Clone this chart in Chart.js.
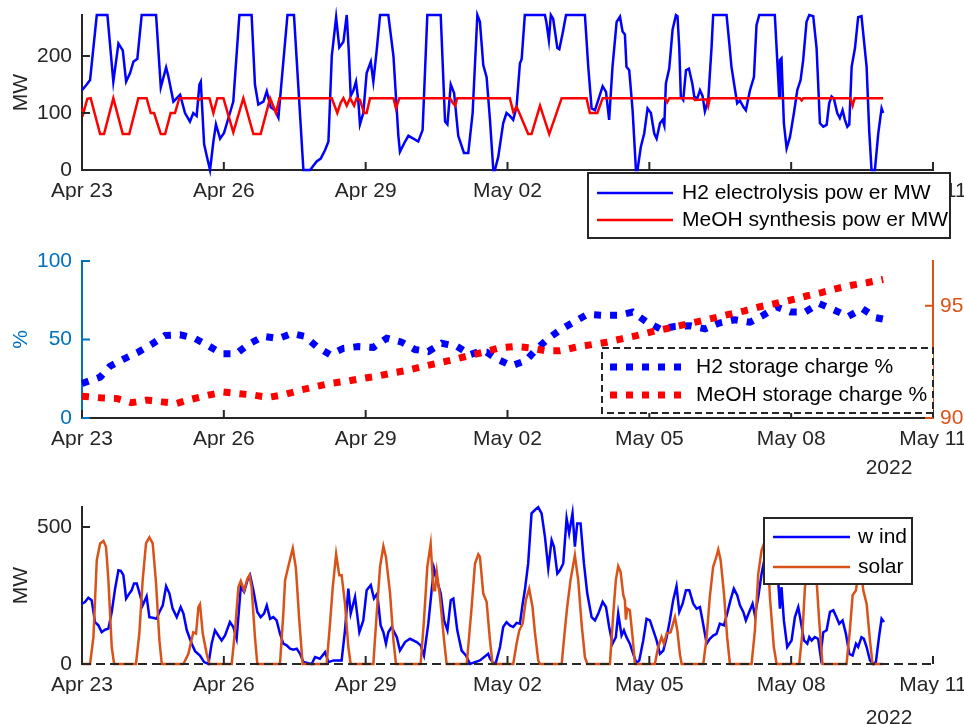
<!DOCTYPE html>
<html>
<head>
<meta charset="utf-8">
<title>Power, storage and resources</title>
<script src="https://cdn.jsdelivr.net/npm/chart.js@4.4.0/dist/chart.umd.min.js"></script>
<style>
  body { margin: 0; background: #ffffff; }
  #wrap { position: relative; width: 964px; height: 724px; overflow: hidden; }
  canvas { position: absolute; left: 0; top: 0; }
</style>
</head>
<body>
<div id="wrap">
  <canvas id="powerChart" width="964" height="724"></canvas>
  <canvas id="storageChart" width="964" height="724"></canvas>
  <canvas id="resourceChart" width="964" height="724"></canvas>
</div>
<script>
// =======================
// Axis ticks (x in hours from Apr 23 00:00)
// =======================
const dayTickHours = [0, 72, 144, 216, 288, 360, 432];
const dayTickLabels = ['Apr 23', 'Apr 26', 'Apr 29', 'May 02', 'May 05', 'May 08', 'May 11'];
const yearLabel = '2022';
const powerTicks = [0, 100, 200];
const storageTicks = [0, 50, 100];
const meohStorageTicks = [90, 95];
const resourceTicks = [0, 500];

// =======================
// Top: electrolysis / synthesis power (MW)
// =======================
const h2PowerHours = [
  0, 2.4, 4.1, 7.5, 12.9, 15.9, 18.5, 20.7, 22.4, 24.4,
  26.1, 28.1, 30.3, 37.6, 40.0, 42.7, 43.8, 46.4, 49.8, 52.3,
  54.8, 56.5, 58.2, 59.6, 60.3, 62.0, 63.3, 65.0, 66.7, 68.0,
  70.1, 72.1, 75.1, 76.8, 79.9, 86.1, 87.8, 89.5, 92.1, 93.8,
  95.8, 98.0, 99.7, 104.3, 107.6, 112.4, 115.8, 119.1, 121.2, 123.4,
  125.1, 126.8, 129.0, 130.6, 132.7, 134.4, 135.4, 136.4, 137.8, 139.1,
  140.3, 141.1, 142.8, 144.5, 146.6, 147.9, 149.6, 151.3, 155.5, 158.1,
  160.6, 161.4, 164.0, 165.7, 168.2, 170.7, 172.9, 175.3, 182.1, 184.3,
  185.5, 187.2, 188.9, 191.0, 193.9, 196.1, 198.3, 200.7, 202.0, 203.7,
  205.4, 207.1, 208.8, 209.6, 211.3, 213.8, 215.5, 217.2, 218.9, 220.6,
  222.3, 223.2, 224.8, 235.0, 235.8, 237.0, 238.0, 239.2, 241.3, 242.3,
  244.0, 245.7, 255.3, 257.0, 258.7, 260.4, 262.1, 264.3, 266.0, 267.6,
  269.3, 271.4, 273.1, 274.4, 275.6, 276.4, 277.8, 279.5, 281.2, 282.0,
  283.7, 285.4, 287.1, 288.8, 290.5, 291.7, 293.4, 294.7, 295.6, 296.4,
  298.1, 299.8, 301.5, 302.3, 303.2, 304.0, 305.2, 306.6, 308.1, 309.8,
  310.8, 312.3, 313.7, 315.0, 316.2, 317.9, 319.6, 320.4, 327.2, 328.6,
  329.7, 331.4, 332.6, 334.0, 335.7, 337.0, 339.1, 341.1, 342.4, 343.8,
  351.7, 353.4, 353.9, 354.3, 355.1, 356.3, 357.7, 359.4, 361.4, 363.1,
  364.8, 366.1, 367.8, 369.2, 371.2, 372.9, 374.6, 376.3, 378.0, 379.3,
  380.5, 381.7, 383.4, 384.7, 386.1, 387.3, 388.5, 389.5, 390.7, 392.4,
  394.0, 395.7, 398.3, 399.6, 400.8, 402.5, 404.2, 405.9, 406.7
];
const h2PowerMW = [
  140, 150, 158, 272, 272, 155, 222, 210, 155, 170,
  190, 195, 272, 272, 145, 180, 165, 120, 132, 100,
  85, 100, 95, 150, 155, 45, 25, 0, 50, 80,
  55, 65, 100, 120, 272, 272, 150, 115, 120, 138,
  110, 105, 92, 272, 272, 0, 0, 15, 20, 35,
  50, 200, 268, 215, 225, 272, 210, 130, 140, 155,
  120, 80, 100, 170, 190, 155, 210, 272, 272, 200,
  60, 32, 50, 60, 55, 50, 70, 272, 272, 85,
  80, 150, 135, 60, 30, 30, 100, 272, 260, 184,
  163, 88, 0, 0, 23, 82, 100, 95, 88, 111,
  187, 195, 272, 272, 258, 228, 272, 265, 214, 212,
  240, 272, 272, 181, 108, 105, 123, 147, 137, 88,
  181, 260, 269, 243, 238, 181, 175, 105, 0, 0,
  41, 64, 108, 100, 64, 55, 82, 88, 78, 152,
  178, 246, 272, 270, 214, 129, 123, 175, 178, 152,
  129, 125, 140, 130, 103, 123, 216, 272, 272, 222,
  181, 143, 117, 122, 111, 105, 140, 163, 254, 272,
  272, 163, 129, 193, 196, 82, 38, 58, 100, 140,
  158, 193, 260, 272, 270, 214, 82, 76, 79, 117,
  129, 125, 100, 91, 105, 88, 76, 80, 181, 214,
  268, 270, 181, 70, 0, 0, 64, 108, 100
];
const meohPowerHours = [
  0, 0.7, 2.7, 4.4, 9.2, 11.2, 15.9, 20.7, 24.0, 28.6,
  32.8, 34.9, 36.6, 40.0, 42.2, 45.0, 47.2, 49.4, 58.2, 59.4,
  60.8, 64.7, 66.7, 68.7, 71.8, 76.8, 81.9, 87.0, 90.7, 95.5,
  98.5, 100.2, 126.8, 129.6, 131.3, 132.7, 134.4, 136.1, 138.1, 139.4,
  141.1, 143.2, 144.5, 146.2, 158.1, 159.4, 161.1, 186.8, 188.2, 189.4,
  190.5, 217.2, 218.9, 220.6, 222.0, 226.5, 228.2, 232.5, 237.2, 243.5,
  256.1, 257.8, 261.6, 264.3, 295.9, 297.1, 298.1, 310.3, 311.1, 317.1,
  317.9, 318.7, 364.4, 365.3, 366.1, 390.1, 391.2, 392.2, 406.7
];
const meohPowerMW = [
  108, 100, 125, 126, 63, 63, 126, 63, 63, 126,
  126, 100, 100, 63, 63, 100, 100, 126, 126, 123,
  126, 126, 100, 126, 126, 66, 126, 63, 63, 126,
  100, 126, 126, 100, 118, 126, 113, 126, 113, 126,
  123, 100, 100, 126, 126, 108, 126, 126, 118, 113,
  126, 126, 102, 111, 100, 63, 63, 113, 63, 126,
  126, 100, 100, 126, 126, 119, 126, 126, 123, 124,
  113, 126, 126, 122, 126, 126, 113, 126, 126
];

// =======================
// Middle: storage charge (%)
// =======================
const h2StorageHours = [
  0, 9.2, 14.2, 21.9, 28.6, 35.4, 42.2, 49.8, 57.4, 64.2,
  70.9, 78.5, 84.5, 92.1, 99.7, 106.4, 113.2, 119.1, 125.9, 132.7,
  140.3, 147.9, 154.7, 162.3, 169.1, 175.8, 182.6, 190.2, 197.0, 201.0,
  205.4, 210.5, 218.1, 225.3, 230.8, 236.7, 242.6, 250.2, 256.5, 264.6,
  272.2, 279.5, 286.3, 293.4, 301.0, 308.6, 316.2, 323.5, 331.4, 339.1,
  345.8, 352.6, 359.7, 367.0, 374.2, 381.4, 389.0, 396.2, 403.0, 406.7
];
const h2StoragePct = [
  22, 26, 33, 38, 42, 47, 52.6, 53, 50.6, 46,
  41, 41, 47, 52, 50.6, 53.8, 52, 45.5, 40.4, 44.4,
  45.5, 45, 50.8, 48.3, 43.6, 42.3, 47.6, 45.7, 40.4, 42,
  41.9, 37.6, 33.3, 36.5, 44, 50.6, 56, 61.5, 66, 65.4,
  65.4, 67.5, 61.5, 56.8, 58.3, 58.8, 56.8, 60.5, 62.6, 61,
  65.4, 70.7, 67.5, 67.5, 72.9, 69, 64.7, 69.6, 63.9, 63
];
const meohStorageHours = [
  0, 9.2, 17.6, 25.2, 32.8, 40.5, 48.1, 55.7, 64.2, 71.8,
  79.4, 87.0, 94.6, 103.1, 110.7, 118.3, 125.9, 134.4, 142.0, 149.6,
  157.2, 164.8, 173.3, 180.9, 188.5, 197.0, 203.7, 212.2, 219.8, 227.4,
  235.0, 242.6, 251.1, 258.7, 266.3, 273.9, 281.5, 290.0, 297.6, 305.2,
  312.8, 320.4, 328.9, 336.5, 344.1, 351.7, 359.4, 367.8, 375.4, 383.0,
  390.7, 398.3, 406.7
];
const meohStoragePct = [
  90.97, 90.9, 90.87, 90.68, 90.8, 90.72, 90.65, 90.84, 91.02, 91.16,
  91.09, 91.02, 90.92, 91.05, 91.24, 91.39, 91.54, 91.64, 91.76, 91.86,
  92.0, 92.12, 92.3, 92.45, 92.6, 92.79, 92.93, 93.13, 93.19, 93.13,
  93.0, 93.0, 93.16, 93.27, 93.38, 93.53, 93.67, 93.86, 94.0, 94.15,
  94.3, 94.45, 94.63, 94.78, 94.96, 95.1, 95.25, 95.44, 95.59, 95.77,
  95.92, 96.03, 96.18
];

// =======================
// Bottom: wind / solar (MW)
// =======================
const windHours = [
  0, 1.5, 3.2, 4.9, 6.6, 8.3, 10.0, 11.7, 13.4, 15.1,
  16.8, 18.5, 19.7, 21.0, 22.4, 24.0, 25.2, 26.4, 27.8, 29.5,
  30.8, 32.8, 34.2, 35.9, 37.9, 39.3, 41.0, 42.7, 44.4, 46.0,
  48.1, 50.1, 51.5, 53.2, 55.7, 57.4, 59.9, 62.0, 64.2, 65.8,
  67.5, 69.2, 70.9, 72.6, 75.1, 76.8, 78.5, 80.6, 82.3, 84.0,
  85.3, 87.0, 89.0, 90.7, 92.4, 93.8, 95.5, 97.1, 98.8, 100.5,
  102.2, 103.9, 105.6, 107.3, 109.0, 110.7, 112.4, 116.6, 118.3, 120.8,
  123.4, 125.1, 127.6, 131.8, 133.5, 135.2, 136.4, 138.6, 140.8, 142.8,
  144.5, 146.6, 148.2, 149.9, 151.6, 153.0, 154.3, 155.5, 157.2, 159.8,
  161.4, 164.0, 166.5, 169.9, 171.9, 173.6, 175.8, 177.5, 178.7, 180.4,
  182.1, 183.8, 185.5, 187.2, 188.5, 190.5, 192.7, 194.9, 197.0, 199.5,
  202.0, 206.2, 207.1, 208.8, 210.1, 212.2, 213.8, 215.5, 217.2, 218.9,
  220.6, 222.3, 223.7, 224.8, 226.5, 228.2, 229.9, 231.6, 233.3, 235.0,
  236.7, 238.4, 239.6, 241.3, 242.6, 244.3, 246.0, 247.3, 249.0, 250.2,
  251.4, 253.1, 254.8, 256.5, 258.7, 260.4, 262.1, 264.3, 266.0, 267.6,
  269.3, 271.0, 272.2, 273.9, 275.1, 276.4, 278.1, 279.8, 281.5, 282.9,
  284.9, 286.6, 288.3, 290.0, 291.7, 293.4, 295.1, 296.8, 298.4, 300.1,
  301.8, 303.2, 304.9, 306.6, 308.3, 310.3, 312.0, 313.7, 315.0, 317.1,
  318.7, 320.4, 322.1, 323.8, 325.9, 327.5, 329.2, 330.9, 332.6, 334.0,
  335.7, 337.0, 338.7, 340.4, 341.6, 343.3, 345.0, 346.7, 349.2, 351.7,
  353.4, 354.3, 355.1, 356.3, 358.0, 360.2, 361.9, 363.6, 364.8, 366.5,
  368.2, 369.2, 370.4, 372.0, 373.7, 374.9, 376.3, 378.0, 379.7, 381.4,
  383.0, 384.4, 386.1, 387.8, 389.5, 391.2, 392.9, 394.0, 395.7, 396.9,
  398.3, 400.0, 401.7, 403.0, 404.7, 405.9, 407.1
];
const windMW = [
  220, 226, 242, 233, 153, 141, 116, 125, 129, 190,
  275, 342, 340, 324, 239, 257, 269, 294, 294, 251,
  214, 247, 171, 169, 165, 190, 214, 284, 257, 202,
  171, 208, 184, 123, 74, 47, 31, 7, 0, 74,
  123, 104, 86, 104, 153, 135, 92, 281, 263, 306,
  324, 269, 190, 171, 184, 214, 165, 171, 159, 111,
  74, 68, 56, 52, 56, 37, 7, 0, 25, 19,
  43, 7, 13, 13, 123, 275, 184, 245, 116, 159,
  269, 288, 239, 257, 141, 116, 74, 116, 135, 98,
  49, 80, 92, 80, 68, 31, 147, 269, 349, 300,
  257, 159, 123, 233, 239, 123, 49, 31, 0, 7,
  13, 37, 20, 3, 5, 62, 135, 153, 141, 135,
  150, 147, 220, 269, 367, 550, 562, 572, 550, 465,
  349, 452, 428, 330, 342, 367, 532, 477, 550, 428,
  513, 513, 367, 257, 171, 159, 184, 227, 208, 135,
  74, 98, 184, 104, 123, 98, 74, 37, 3, 13,
  86, 165, 159, 123, 86, 37, 49, 98, 159, 233,
  284, 190, 220, 269, 269, 220, 202, 208, 159, 74,
  92, 104, 110, 147, 141, 184, 233, 275, 251, 214,
  190, 159, 190, 220, 178, 245, 330, 391, 440, 420,
  306, 202, 281, 159, 62, 86, 171, 208, 159, 86,
  74, 98, 86, 98, 92, 31, 116, 123, 190, 196,
  171, 147, 159, 110, 37, 31, 74, 62, 98, 92,
  62, 13, 0, 7, 104, 165, 153
];
const solarHours = [
  0, 4.1, 5.8, 7.5, 9.2, 10.9, 12.2, 13.4, 15.1, 16.3,
  27.4, 29.1, 30.8, 32.5, 34.2, 35.9, 37.6, 39.3, 40.5, 51.5,
  54.0, 56.5, 57.9, 59.1, 59.9, 61.3, 63.3, 64.7, 76.0, 77.7,
  79.4, 80.6, 82.3, 84.0, 85.0, 86.1, 87.8, 89.0, 100.5, 102.2,
  103.1, 105.3, 107.0, 108.6, 110.3, 112.0, 124.2, 125.9, 127.3, 129.0,
  130.6, 131.8, 133.5, 135.2, 136.4, 147.9, 149.6, 151.3, 153.0, 154.3,
  156.4, 158.1, 159.4, 171.9, 173.6, 175.3, 177.0, 178.4, 179.2, 180.1,
  181.7, 183.8, 185.1, 195.3, 197.8, 199.5, 201.2, 202.0, 203.7, 205.4,
  207.1, 208.4, 218.9, 220.6, 222.0, 223.7, 225.3, 227.0, 228.7, 229.9,
  231.6, 232.5, 243.5, 245.1, 246.3, 248.0, 250.2, 251.9, 253.6, 255.3,
  256.5, 268.0, 269.7, 271.0, 272.2, 273.4, 274.8, 275.6, 276.1, 276.8,
  278.1, 279.5, 280.7, 290.8, 292.5, 294.2, 295.4, 296.8, 298.8, 301.0,
  302.2, 303.5, 304.4, 315.4, 317.1, 318.7, 320.4, 321.8, 323.0, 324.2,
  325.9, 327.5, 328.9, 339.9, 341.6, 343.3, 345.0, 346.5, 348.0, 349.2,
  351.2, 352.6, 364.1, 365.8, 367.0, 369.5, 372.9, 374.2, 375.9, 388.1,
  389.8, 391.2, 392.9, 394.0, 395.2, 396.6, 398.3, 400.0, 401.3, 406.7
];
const solarMW = [
  0, 0, 98, 379, 440, 449, 428, 306, 62, 0,
  0, 111, 306, 440, 462, 440, 294, 86, 0, 0,
  37, 116, 111, 208, 218, 111, 37, 0, 0, 123,
  281, 303, 269, 312, 324, 281, 98, 0, 0, 184,
  306, 373, 422, 349, 159, 0, 0, 147, 281, 401,
  324, 324, 220, 62, 0, 0, 184, 355, 430, 391,
  257, 86, 0, 0, 159, 355, 438, 269, 269, 336,
  245, 86, 0, 0, 208, 367, 400, 391, 257, 227,
  86, 0, 0, 74, 123, 147, 233, 275, 208, 116,
  13, 0, 0, 123, 208, 306, 397, 306, 147, 25,
  0, 0, 184, 306, 357, 336, 251, 233, 162, 202,
  196, 98, 0, 0, 62, 98, 74, 111, 116, 171,
  123, 37, 0, 0, 98, 245, 355, 385, 418, 379,
  257, 98, 0, 0, 123, 330, 416, 445, 420, 245,
  62, 0, 0, 123, 281, 400, 306, 159, 0, 0,
  123, 251, 269, 330, 360, 269, 220, 86, 0, 0
];
const baselineHours = [0, 432];
const baselineMW = [0, 0];

// =======================
// Shared styling
// =======================
const FONT = '"Liberation Sans", Arial, Helvetica, sans-serif';
const AXIS_COLOR = '#262626';
const LEFT_BLUE = '#0072BD';
const ORANGE = '#D95319';
const LINE_W = 2.5;

Chart.defaults.font.family = FONT;
Chart.defaults.font.size = 21;
Chart.defaults.color = AXIS_COLOR;

function toPoints(xs, ys) {
  return xs.map((x, i) => ({ x: x, y: ys[i] }));
}

function timeAxis(showBorder) {
  return {
    type: 'linear',
    min: 0,
    max: 432,
    afterBuildTicks: s => { s.ticks = dayTickHours.map(v => ({ value: v })); },
    afterFit: s => { s.height = 30; s.paddingLeft = 0; s.paddingRight = 0; },
    ticks: {
      callback: (v, i) => dayTickLabels[i],
      autoSkip: false, maxRotation: 0, minRotation: 0,
      padding: 9, color: AXIS_COLOR
    },
    grid: { display: false, drawTicks: false },
    border: { display: showBorder, color: AXIS_COLOR, width: 2 }
  };
}

function valueAxis(opts) {
  return {
    type: 'linear',
    position: opts.position || 'left',
    min: opts.min,
    max: opts.max,
    afterBuildTicks: s => { s.ticks = opts.ticks.map(v => ({ value: v })); },
    afterFit: s => { s.width = opts.width; s.paddingTop = 0; s.paddingBottom = 0; },
    ticks: { padding: opts.padding, color: opts.color },
    grid: { display: false, drawTicks: false },
    border: { display: true, color: opts.color, width: 2 },
    title: opts.title
      ? { display: true, text: opts.title, color: opts.color, padding: { top: 9, bottom: 0 } }
      : { display: false }
  };
}

// MATLAB style ticks that point into the plot
const inwardTicks = {
  id: 'inwardTicks',
  afterDatasetsDraw(chart) {
    const ctx = chart.ctx;
    const len = 8;
    Object.values(chart.scales).forEach(scale => {
      ctx.save();
      ctx.strokeStyle = scale.options.border.color;
      ctx.lineWidth = 2;
      ctx.beginPath();
      scale.ticks.forEach(t => {
        const p = scale.getPixelForValue(t.value);
        if (scale.isHorizontal()) {
          ctx.moveTo(p, scale.top);
          ctx.lineTo(p, scale.top - len);
        } else if (scale.position === 'left') {
          ctx.moveTo(scale.right, p);
          ctx.lineTo(scale.right + len, p);
        } else {
          ctx.moveTo(scale.left, p);
          ctx.lineTo(scale.left - len, p);
        }
      });
      ctx.stroke();
      ctx.restore();
    });
  }
};

function boxLegend(spec) {
  return {
    id: 'boxLegend',
    afterDraw(chart) {
      const ctx = chart.ctx;
      const [bx, by, bw, bh] = spec.box;
      ctx.save();
      ctx.fillStyle = '#ffffff';
      ctx.fillRect(bx, by, bw, bh);
      ctx.strokeStyle = AXIS_COLOR;
      ctx.lineWidth = 2;
      ctx.setLineDash(spec.dashed ? [7, 4] : []);
      ctx.strokeRect(bx, by, bw, bh);
      spec.rows.forEach(row => {
        const ds = chart.data.datasets[row.dataset];
        ctx.strokeStyle = ds.borderColor;
        ctx.lineWidth = ds.borderWidth;
        ctx.lineCap = 'butt';
        ctx.setLineDash(ds.borderDash || []);
        ctx.beginPath();
        ctx.moveTo(spec.sample[0], row.y);
        ctx.lineTo(spec.sample[1], row.y);
        ctx.stroke();
        ctx.setLineDash([]);
        ctx.fillStyle = '#000000';
        ctx.font = '21px ' + FONT;
        ctx.textBaseline = 'middle';
        ctx.textAlign = 'left';
        ctx.fillText(ds.label, spec.textX, row.y);
      });
      ctx.restore();
    }
  };
}

function yearTag(x, y) {
  return {
    id: 'yearTag',
    afterDraw(chart) {
      const ctx = chart.ctx;
      ctx.save();
      ctx.fillStyle = AXIS_COLOR;
      ctx.font = '21px ' + FONT;
      ctx.textAlign = 'center';
      ctx.textBaseline = 'middle';
      ctx.fillText(yearLabel, x, y);
      ctx.restore();
    }
  };
}

function baseOptions(padding, scales) {
  return {
    responsive: false,
    animation: false,
    devicePixelRatio: 1,
    layout: { padding: padding },
    plugins: { legend: { display: false }, tooltip: { enabled: false } },
    elements: { point: { radius: 0 }, line: { tension: 0 } },
    scales: scales
  };
}

// =======================
// Charts
// =======================
function loadPowerChart() {
  new Chart(document.getElementById('powerChart'), {
    type: 'line',
    data: {
      datasets: [
        {
          label: 'H2 electrolysis pow er MW',
          data: toPoints(h2PowerHours, h2PowerMW),
          borderColor: '#0000FF', borderWidth: LINE_W, clip: 8, order: 2
        },
        {
          label: 'MeOH synthesis pow er MW',
          data: toPoints(meohPowerHours, meohPowerMW),
          borderColor: '#FF0000', borderWidth: LINE_W, clip: 8, order: 1
        }
      ]
    },
    options: baseOptions({ left: 0, right: 31, top: 15, bottom: 524 }, {
      x: timeAxis(true),
      y: valueAxis({ min: 0, max: 272, ticks: powerTicks, width: 82, padding: 10, color: AXIS_COLOR, title: 'MW' })
    }),
    plugins: [inwardTicks, boxLegend({
      box: [588, 173, 362, 65], dashed: false,
      sample: [597, 673], textX: 682,
      rows: [{ dataset: 0, y: 193 }, { dataset: 1, y: 220 }]
    })]
  });
}

function loadStorageChart() {
  new Chart(document.getElementById('storageChart'), {
    type: 'line',
    data: {
      datasets: [
        {
          label: 'H2 storage charge %',
          data: toPoints(h2StorageHours, h2StoragePct),
          yAxisID: 'y',
          borderColor: '#0000FF', borderWidth: 7, borderDash: [7, 9],
          borderCapStyle: 'butt', clip: 8, order: 2
        },
        {
          label: 'MeOH storage charge %',
          data: toPoints(meohStorageHours, meohStoragePct),
          yAxisID: 'y2',
          borderColor: '#FF0000', borderWidth: 7, borderDash: [7, 9],
          borderCapStyle: 'butt', clip: 8, order: 1
        }
      ]
    },
    options: baseOptions({ left: 0, right: 0, top: 261, bottom: 276 }, {
      x: timeAxis(true),
      y: valueAxis({ min: 0, max: 100, ticks: storageTicks, width: 82, padding: 10, color: LEFT_BLUE, title: '%' }),
      y2: valueAxis({ position: 'right', min: 90, max: 97, ticks: meohStorageTicks, width: 31, padding: 7, color: ORANGE })
    }),
    plugins: [inwardTicks, yearTag(889, 468), boxLegend({
      box: [602, 348, 331, 65], dashed: true,
      sample: [610, 682], textX: 696,
      rows: [{ dataset: 0, y: 367 }, { dataset: 1, y: 395 }]
    })]
  });
}

function loadResourceChart() {
  new Chart(document.getElementById('resourceChart'), {
    type: 'line',
    data: {
      datasets: [
        {
          label: 'zero',
          data: toPoints(baselineHours, baselineMW),
          borderColor: AXIS_COLOR, borderWidth: 2, borderDash: [9, 5], clip: 8
        },
        {
          label: 'solar',
          data: toPoints(solarHours, solarMW),
          borderColor: ORANGE, borderWidth: LINE_W, clip: 8
        },
        {
          label: 'w ind',
          data: toPoints(windHours, windMW),
          borderColor: '#0000FF', borderWidth: LINE_W, clip: 8
        }
      ]
    },
    options: baseOptions({ left: 0, right: 31, top: 507, bottom: 30 }, {
      x: timeAxis(false),
      y: valueAxis({ min: 0, max: 573, ticks: resourceTicks, width: 82, padding: 10, color: AXIS_COLOR, title: 'MW' })
    }),
    plugins: [inwardTicks, yearTag(889, 718), boxLegend({
      box: [764, 518, 148, 66], dashed: false,
      sample: [773, 850], textX: 858,
      rows: [{ dataset: 2, y: 537 }, { dataset: 1, y: 567 }]
    })]
  });
}

loadPowerChart();
loadStorageChart();
loadResourceChart();
</script>
</body>
</html>
